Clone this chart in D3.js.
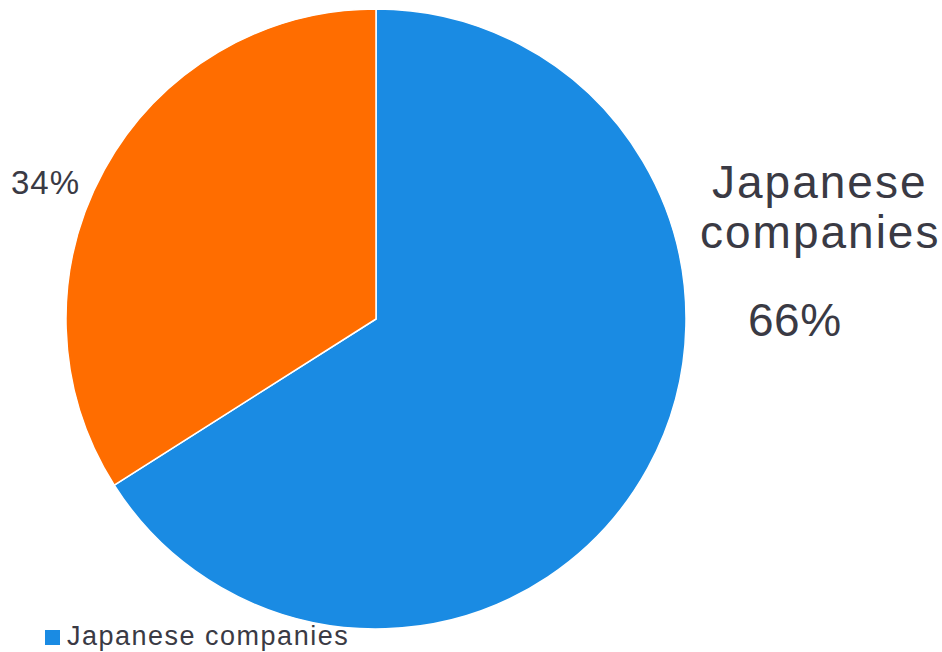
<!DOCTYPE html>
<html>
<head>
<meta charset="utf-8">
<script src="https://cdn.jsdelivr.net/npm/d3@7"></script>
<style>
  html, body { margin: 0; padding: 0; background: #fff; }
  svg { display: block; font-family: "Liberation Sans", Arial, sans-serif; }
</style>
</head>
<body>
<svg id="chart" width="942" height="652"></svg>
<script>
// Share of companies
const categories = ["Japanese companies", "Other companies"];
const shares = [66, 34];
const colors = ["#1a8be3", "#ff6d00"];
const legendItems = ["Japanese companies"];

const svg = d3.select("#chart");
const cx = 376, cy = 319, radius = 310;
const textColor = "#3a3a44";

const pie = d3.pie().sort(null).value(d => d.value);
const arcs = pie(categories.map((c, i) => ({ name: c, value: shares[i] })));
const arc = d3.arc().innerRadius(0).outerRadius(radius);
const color = d3.scaleOrdinal().domain(categories).range(colors);

const g = svg.append("g").attr("transform", `translate(${cx},${cy})`);
g.selectAll("path")
  .data(arcs)
  .join("path")
  .attr("d", arc)
  .attr("fill", d => color(d.data.name))
  .attr("stroke", "#fff")
  .attr("stroke-width", 1.5);

// Labels
const bigLabel = svg.append("g").attr("fill", textColor)
  .attr("font-size", 46).attr("letter-spacing", 2);
bigLabel.append("text").attr("x", 712).attr("y", 198).text("Japanese");
bigLabel.append("text").attr("x", 700).attr("y", 248).text("companies");
bigLabel.append("text").attr("x", 748).attr("y", 336)
  .attr("letter-spacing", 0.5).text(shares[0] + "%");

svg.append("text").attr("x", 11).attr("y", 194)
  .attr("fill", textColor).attr("font-size", 33).attr("letter-spacing", 1)
  .text(shares[1] + "%");

// Legend
const legend = svg.append("g").attr("transform", "translate(45,630)");
legend.selectAll("rect").data(legendItems).join("rect")
  .attr("x", 0).attr("y", 0).attr("width", 15).attr("height", 15)
  .attr("fill", d => color(d));
legend.selectAll("text").data(legendItems).join("text")
  .attr("x", 22).attr("y", 15).attr("font-size", 27).attr("fill", textColor)
  .attr("letter-spacing", 1.5)
  .text(d => d);
</script>
</body>
</html>
